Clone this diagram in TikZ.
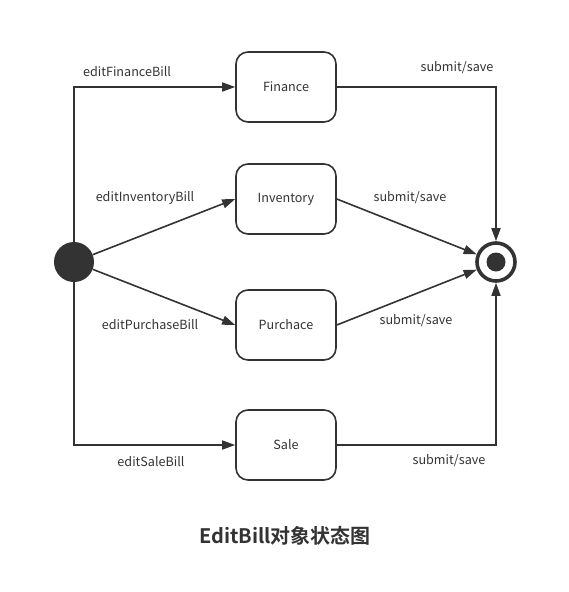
\documentclass[tikz,border=0pt]{standalone}
\usepackage{fontspec}
\setmainfont{Noto Sans CJK SC}[BoldFont={Noto Sans CJK SC Bold}]
\usetikzlibrary{arrows.meta}
\definecolor{gris}{HTML}{333333}
\begin{document}
\begin{tikzpicture}[x=1pt, y=-1pt]
			\tikzset{etat/.style={rectangle, rounded corners=12pt, draw=gris, line width=1.6pt, minimum width=100pt, minimum height=70pt, font=\fontsize{12.6}{14}\selectfont, text=gris},
				fleche/.style={-{Triangle[length=13pt, width=9pt]}, draw=gris, line width=1.6pt},
				etiquette/.style={font=\fontsize{12.6}{14}\selectfont, text=gris}};
			\useasboundingbox (0,0) rectangle (568,592);

			\node[circle, fill=gris, minimum size=40pt, inner sep=0pt] (debut) at (74,262) {};
			\node[circle, draw=gris, line width=3.6pt, minimum size=38pt, inner sep=0pt] (fin) at (496,262) {};
			\node[circle, fill=gris, minimum size=19pt, inner sep=0pt] (findot) at (fin) {};

			\node[etat] (finance) at (286,87) {Finance};
			\node[etat] (inventory) at (286,199) {Inventory};
			\node[etat] (purchace) at (286,325) {Purchace};
			\node[etat] (sale) at (286,445) {Sale};

			\node[etiquette] (lfinance) at (127,72) {editFinanceBill};
			\node[etiquette] (linventory) at (145,198) {editInventoryBill};
			\node[etiquette] (lpurchace) at (150,325) {editPurchaseBill};
			\node[etiquette] (lsale) at (151,462) {editSaleBill};
			\node[etiquette] (sfinance) at (457,68) {submit/save};
			\node[etiquette] (sinventory) at (410,198) {submit/save};
			\node[etiquette] (spurchace) at (416,321) {submit/save};
			\node[etiquette] (ssale) at (449,461) {submit/save};

			\node[font=\bfseries\fontsize{20}{24}\selectfont, text=gris] (titre) at (285,536) {EditBill对象状态图};

			\draw[fleche] (debut) |- (finance);
			\draw[fleche] (debut) -- (inventory.west);
			\draw[fleche] (debut) -- (purchace.west);
			\draw[fleche] (debut) |- (sale);

			\draw[fleche] (finance) -| (fin);
			\draw[fleche] (inventory.east) -- (fin);
			\draw[fleche] (purchace.east) -- (fin);
			\draw[fleche] (sale) -| (fin);
		\end{tikzpicture}
\end{document}
